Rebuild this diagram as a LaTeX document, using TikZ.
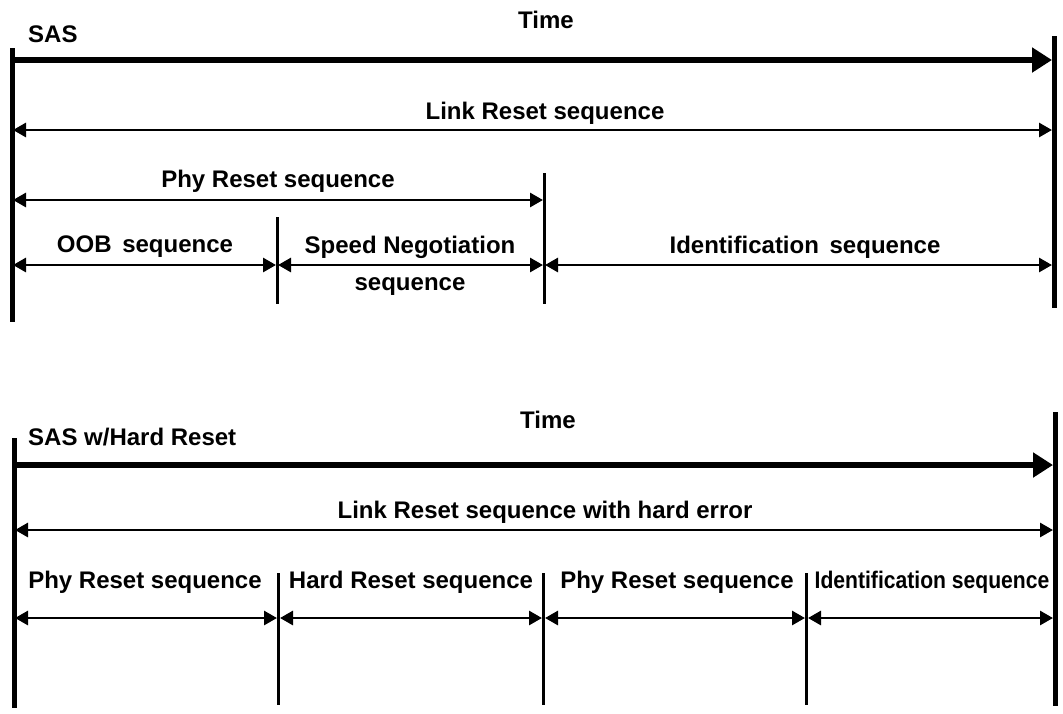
\documentclass[tikz,border=0pt]{standalone}
\usepackage{fontspec}
\setmainfont{Liberation Sans}
\usetikzlibrary{arrows.meta}
\tikzset{
  lbl/.style={inner sep=0pt, font=\fontsize{24}{27}\selectfont\bfseries},
  bar/.style={line width=5pt},
  divider/.style={line width=3pt},
  timearrow/.style={line width=5.5pt, -{Triangle[length=20pt,width=24pt]}},
  span/.style={line width=2.8pt, {Triangle[length=13pt,width=14pt]}-{Triangle[length=13pt,width=14pt]}}
}
\begin{document}
\begin{tikzpicture}[x=1pt,y=-1pt]
\useasboundingbox (0,0) rectangle (1063,713);
% ---------- top diagram ----------
\node[lbl, anchor=west] (sas) at (28,34) {SAS};
\node[lbl] (time1) at (546,20) {Time};
\coordinate (L1t) at (12,48);  \coordinate (L1b) at (12,322);
\coordinate (R1t) at (1054,36); \coordinate (R1b) at (1054,308);
\draw[bar] (L1t) -- (L1b);
\draw[bar] (R1t) -- (R1b);
\coordinate (ta1) at (12,60); \coordinate (tb1) at (1052,60);
\draw[timearrow] (ta1) -- (tb1);
\node[lbl] (link1) at (545,113) {Link Reset sequence};
\coordinate (la1) at (13,130); \coordinate (lb1) at (1052,130);
\draw[span] (la1) -- (lb1);
\node[lbl] (phy1) at (278,181) {Phy Reset sequence};
\coordinate (dAt) at (544,173); \coordinate (dAb) at (544,304);
\coordinate (dBt) at (277,217); \coordinate (dBb) at (277,304);
\draw[divider] (dAt) -- (dAb);
\draw[divider] (dBt) -- (dBb);
\coordinate (pa1) at (13,200); \coordinate (pb1) at (543,200);
\draw[span] (pa1) -- (pb1);
\node[lbl] (oob) at (145,247) {OOB\, sequence};
\node[lbl] (speed) at (410,247) {Speed Negotiation};
\node[lbl] (speed2) at (410,287) {sequence};
\node[lbl] (ident1) at (805,247) {Identification\, sequence};
\coordinate (oa) at (13,265); \coordinate (ob) at (276,265);
\coordinate (sa) at (278,265); \coordinate (sb) at (543,265);
\coordinate (ia) at (545,265); \coordinate (ib) at (1052,265);
\draw[span] (oa) -- (ob);
\draw[span] (sa) -- (sb);
\draw[span] (ia) -- (ib);
% ---------- bottom diagram ----------
\node[lbl] (time2) at (548,420) {Time};
\node[lbl, anchor=west] (sas2) at (28,437) {SAS w/Hard Reset};
\coordinate (L2t) at (14,438);  \coordinate (L2b) at (14,708);
\coordinate (R2t) at (1055,412); \coordinate (R2b) at (1055,706);
\draw[bar] (L2t) -- (L2b);
\draw[bar] (R2t) -- (R2b);
\coordinate (ta2) at (14,465); \coordinate (tb2) at (1053,465);
\draw[timearrow] (ta2) -- (tb2);
\node[lbl] (link2) at (545,512) {Link Reset sequence with hard error};
\coordinate (la2) at (15,530); \coordinate (lb2) at (1053,530);
\draw[span] (la2) -- (lb2);
\coordinate (d1t) at (278,573); \coordinate (d1b) at (278,705);
\coordinate (d2t) at (543,573); \coordinate (d2b) at (543,705);
\coordinate (d3t) at (806,573); \coordinate (d3b) at (806,705);
\draw[divider] (d1t) -- (d1b);
\draw[divider] (d2t) -- (d2b);
\draw[divider] (d3t) -- (d3b);
\node[lbl] (phy2) at (145,582) {Phy Reset sequence};
\node[lbl] (hard) at (411,582) {Hard Reset sequence};
\node[lbl] (phy3) at (677,582) {Phy Reset sequence};
\node[lbl, xscale=0.88] (ident2) at (932,582) {Identification sequence};
\coordinate (a1) at (15,618); \coordinate (b1) at (277,618);
\coordinate (a2) at (280,618); \coordinate (b2) at (542,618);
\coordinate (a3) at (545,618); \coordinate (b3) at (805,618);
\coordinate (a4) at (808,618); \coordinate (b4) at (1053,618);
\draw[span] (a1) -- (b1);
\draw[span] (a2) -- (b2);
\draw[span] (a3) -- (b3);
\draw[span] (a4) -- (b4);
\end{tikzpicture}
\end{document}
